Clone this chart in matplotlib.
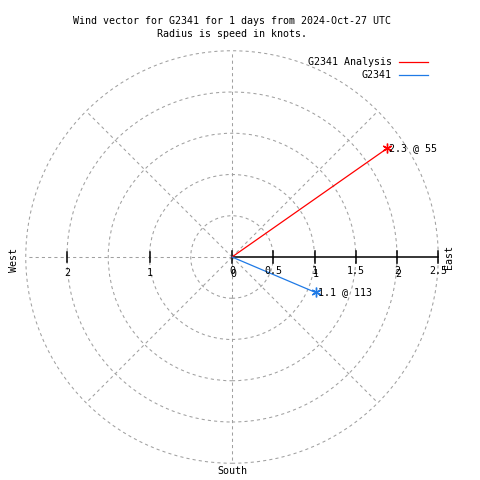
import numpy as np
import matplotlib
matplotlib.use("Agg")
import matplotlib.pyplot as plt
from matplotlib.patches import Circle

plt.rcParams['font.family'] = ['DejaVu Sans Mono']
plt.rcParams['font.size'] = 7.2

# wind vectors: speed in knots, direction in degrees (compass)
series_names = ["G2341 Analysis", "G2341"]
speeds = [2.3, 1.1]
directions = [55, 113]
colors = ["#ff0000", "#1f7ae6"]

ring_radii = [0.5, 1.0, 1.5, 2.0, 2.5]
east_ticks = [0, 0.5, 1, 1.5, 2, 2.5]
east_labels = ["0", "0.5", "1", "1.5", "2", "2.5"]
west_ticks = [1, 2]
west_labels = ["1", "2"]
r_max = 2.5

W, H = 480, 480
cx, cy = 232, 257          # centre in pixels
scale = 82.5               # pixels per knot
px = 1.0 / scale

fig = plt.figure(figsize=(4.8, 4.8), dpi=100)
ax = fig.add_axes([0, 0, 1, 1])
ax.set_xlim(-cx / scale, (W - cx) / scale)
ax.set_ylim(-(H - cy) / scale, cy / scale)
ax.set_aspect('equal', adjustable='datalim')
ax.axis('off')

grid_kw = dict(color='#a0a0a0', lw=0.75, linestyle=(0, (3, 3)))
for r in ring_radii:
    ax.add_patch(Circle((0, 0), r, fill=False, **grid_kw))
for ang in range(45, 360, 45):
    t = np.deg2rad(ang)
    ax.plot([0, r_max * np.cos(t)], [0, r_max * np.sin(t)], **grid_kw)

# east axis with ticks
ax.plot([0, r_max], [0, 0], color='black', lw=1.1)
for x, lab in zip(east_ticks, east_labels):
    ax.plot([x, x], [-6 * px, 6 * px], color='black', lw=1.1)
    ax.text(x, -14 * px, lab, ha='center', va='center')
for x, lab in zip([0, 1, 2], ["0", "1", "2"]):
    ax.text(x + 1 * px, -17 * px, lab, ha='center', va='center')
for x, lab in zip(west_ticks, west_labels):
    ax.plot([-x, -x], [-5 * px, 5 * px], color='black', lw=1.1)
    ax.text(-x, -16 * px, lab, ha='center', va='center')

# vectors
for name, s, d, c in zip(series_names, speeds, directions, colors):
    t = np.deg2rad(90 - d)
    x, y = s * np.cos(t), s * np.sin(t)
    ax.plot([0, x], [0, y], color=c, lw=0.9, label=name)
    ax.plot([x], [y], marker=(6, 2, 0), color=c, ms=7, mew=1.0)
    ax.text(x + 2 * px, y, "%.1f @ %d" % (s, d), ha='left', va='center')

ax.text(r_max + 11 * px, 0, "East", rotation=90, ha='center', va='center')
ax.text(-(cx - 14) * px, -3 * px, "West", rotation=90, ha='center', va='center')
ax.text(0, -214 * px, "South", ha='center', va='center')

fig.text(cx / W, 1 - 21 / H, "Wind vector for G2341 for 1 days from 2024-Oct-27 UTC",
         ha='center', va='center')
fig.text(cx / W, 1 - 34 / H, "Radius is speed in knots.", ha='center', va='center')

ax.legend(loc='upper right', bbox_to_anchor=(428 / W, 1 - 57 / H),
          bbox_transform=fig.transFigure, frameon=False, markerfirst=False,
          borderpad=0, borderaxespad=0, handlelength=2.9, handletextpad=0.7,
          labelspacing=0.3)

fig.savefig("out.png", dpi=100)
